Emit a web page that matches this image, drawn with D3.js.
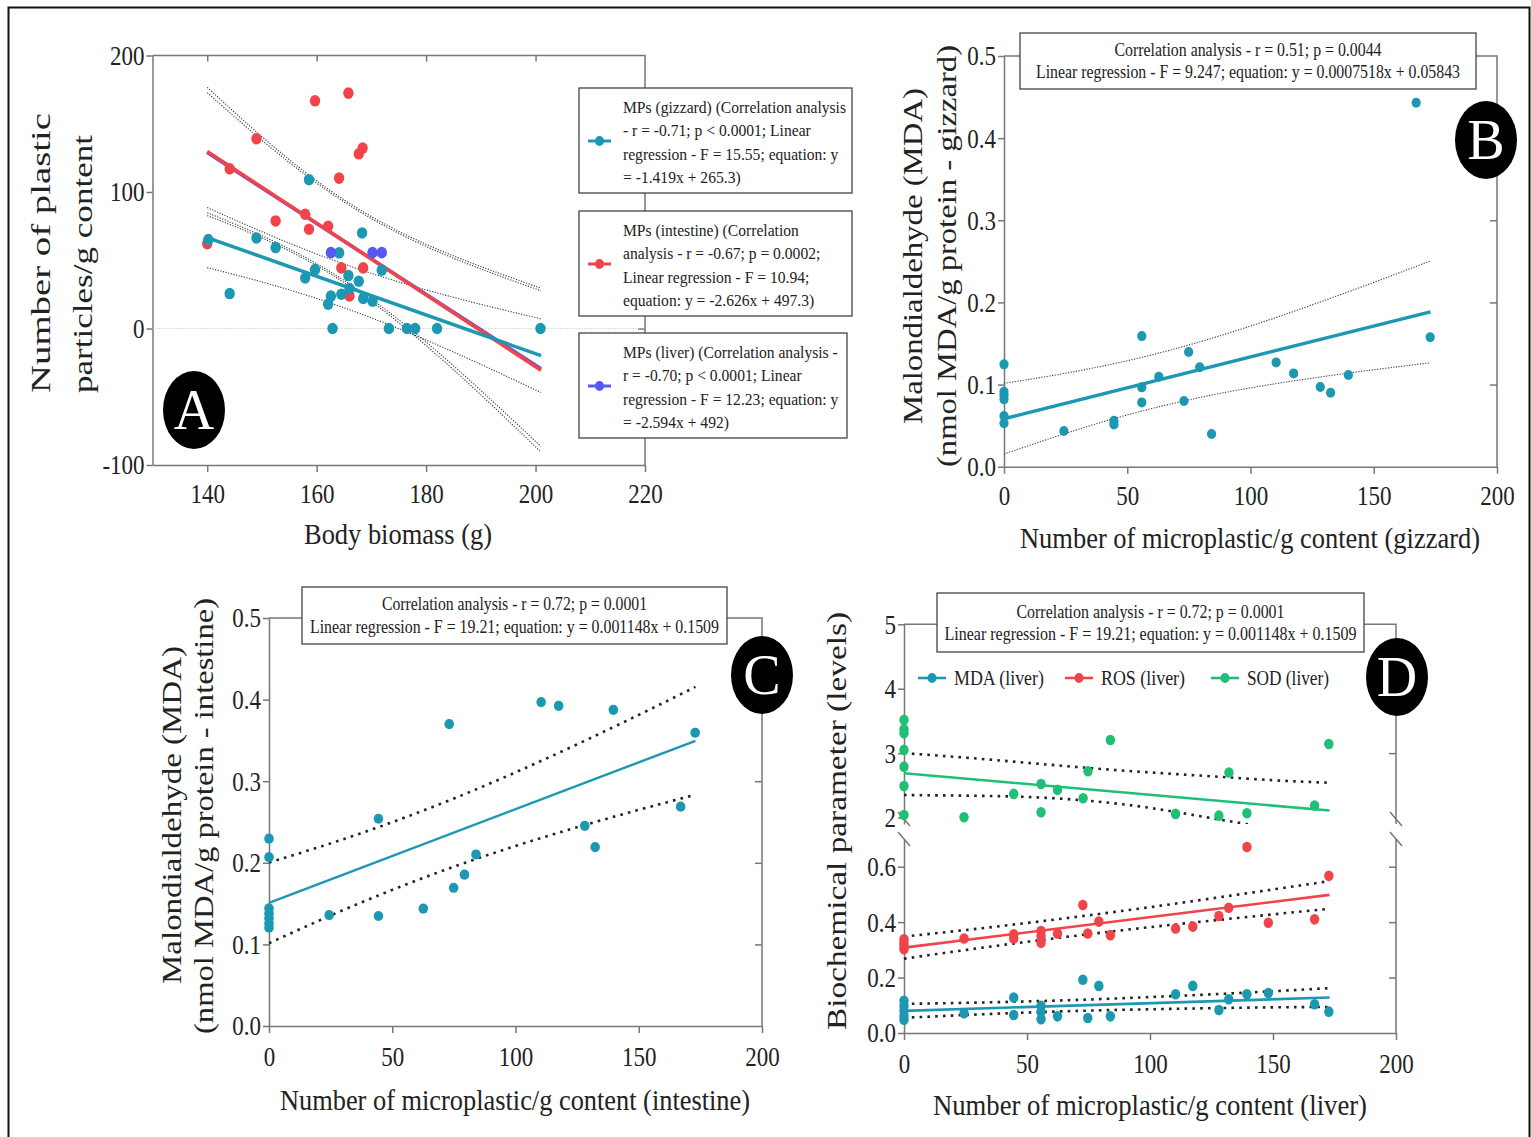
<!DOCTYPE html>
<html>
<head>
<meta charset="utf-8">
<script src="https://cdn.jsdelivr.net/npm/d3@7"></script>
<style>
  body { margin: 0; background: #fff; }
  text { font-family: "Liberation Serif", "DejaVu Serif", serif; }
</style>
</head>
<body>
<svg id="fig" width="1531" height="1137"></svg>
<script>
// ---------- data ----------
// panel A : body biomass vs MPs
const gizX = [140.2, 144.1, 149, 152.5, 157.9, 158.6, 159.7, 162.1, 162.6, 162.9, 164.1, 164.5, 165.8, 166, 167.7, 168.3, 168.5, 170.2, 171.9, 173.2, 176.5, 178, 182, 200.9];
const gizY = [65.1, 25.6, 66.3, 59.3, 37, 109, 43.2, 17.8, 23.7, 0, 55.4, 25.1, 38.8, 29.3, 34.6, 70, 22, 20, 42.7, 0, 0, 0, 0, 0];
const intX = [140, 144.1, 149, 152.5, 157.9, 158.6, 159.7, 162.1, 164.1, 164.5, 165.8, 166, 167.7, 168.4, 168.5];
const intY = [62.2, 117, 139, 78.8, 83.7, 72.7, 166.8, 74.9, 110.2, 44.4, 172.4, 23.9, 128, 132.2, 44.4];
const livX = [162.6, 170.2, 171.9];
const livY = [55.6, 55.6, 55.6];
// fits from the legend: gizzard, intestine, liver
const fitSlopeA = [-1.419, -2.626, -2.594];
const fitIcptA = [265.3, 497.3, 492];
const bandXA = [140, 150, 160, 170, 180, 190, 201];
const gizUpA = [88.6, 70.9, 54.6, 40.4, 28.3, 17.7, 7.1];
const gizLoA = [44.6, 34.1, 22.0, 7.8, -8.5, -26.3, -46.9];
const intUpA = [176.7, 140.5, 108.2, 82.0, 61.7, 45.4, 29.5];
const intLoA = [82.7, 66.3, 46.0, 19.8, -12.5, -48.6, -90.5];
const livUpA = [172.8, 137.9, 106.5, 80.5, 60.1, 43.6, 27.6];
const livLoA = [84.8, 67.9, 47.5, 21.5, -9.9, -45.4, -86.4];
const legendA = [
  ["MPs (gizzard) (Correlation analysis", "- r = -0.71; p < 0.0001; Linear", "regression - F = 15.55; equation: y", "= -1.419x + 265.3)"],
  ["MPs (intestine) (Correlation", "analysis - r = -0.67; p = 0.0002;", "Linear regression - F = 10.94;", "equation: y = -2.626x + 497.3)"],
  ["MPs (liver) (Correlation analysis -", "r = -0.70; p < 0.0001; Linear", "regression - F = 12.23; equation: y", "= -2.594x + 492)"]
];

// panel B : gizzard MPs vs MDA
const bX = [0, 0, 0, 0, 0, 0, 24.3, 44.6, 44.6, 55.9, 55.9, 55.9, 62.8, 73, 74.9, 79.4, 84.2, 110.4, 117.5, 128.3, 132.5, 139.7, 167.2, 172.9];
const bY = [0.1246, 0.0913, 0.087, 0.082, 0.0617, 0.0528, 0.0434, 0.056, 0.0515, 0.159, 0.0966, 0.0783, 0.1096, 0.080, 0.1396, 0.121, 0.0398, 0.127, 0.1136, 0.097, 0.090, 0.1116, 0.443, 0.1575];
const bandX = [0, 25, 50, 75, 100, 125, 150, 173];
const bUp = [0.1014, 0.1138, 0.129, 0.1482, 0.1712, 0.197, 0.2244, 0.2505];
const bLo = [0.0154, 0.0406, 0.063, 0.0814, 0.096, 0.1078, 0.118, 0.1265];
const noteB = ["Correlation analysis - r = 0.51; p = 0.0044", "Linear regression - F = 9.247; equation: y = 0.0007518x + 0.05843"];

// panel C : intestine MPs vs MDA
const cX = [0, 0, 0, 0, 0, 0, 0, 24.4, 44.4, 44.4, 62.6, 73.1, 74.9, 79.3, 84, 110.4, 117.5, 128.1, 132.3, 139.7, 167, 172.9];
const cY = [0.2296, 0.2069, 0.1443, 0.138, 0.132, 0.1257, 0.1204, 0.136, 0.254, 0.1348, 0.1439, 0.370, 0.1694, 0.1855, 0.2102, 0.397, 0.3924, 0.2453, 0.2193, 0.3875, 0.2688, 0.3594];
const cUp = [0.2004, 0.2238, 0.2498, 0.2788, 0.3108, 0.3452, 0.3813, 0.4155];
const cLo = [0.1014, 0.1354, 0.1668, 0.1952, 0.2206, 0.2436, 0.2649, 0.2835];
const noteC = ["Correlation analysis - r = 0.72; p = 0.0001", "Linear regression - F = 19.21; equation: y = 0.001148x + 0.1509"];

// panel D : liver MPs vs biochemical parameters
const rosX = [0, 0, 0, 0, 24.4, 44.6, 44.6, 55.7, 55.7, 55.7, 62.4, 72.7, 74.7, 79.2, 83.9, 110.4, 117.4, 128, 132, 139.4, 148.1, 166.9, 172.7];
const rosY = [0.338, 0.326, 0.314, 0.302, 0.341, 0.356, 0.341, 0.368, 0.350, 0.326, 0.359, 0.462, 0.359, 0.402, 0.353, 0.377, 0.384, 0.422, 0.452, 0.671, 0.398, 0.410, 0.567];
const mdaX = [0, 0, 0, 0, 0, 24.4, 44.6, 44.6, 55.7, 55.7, 55.7, 62.4, 72.7, 74.7, 79.2, 83.9, 110.4, 117.4, 128, 132, 139.4, 148.1, 166.9, 172.7];
const mdaY = [0.116, 0.098, 0.080, 0.062, 0.048, 0.071, 0.128, 0.065, 0.098, 0.077, 0.050, 0.060, 0.192, 0.054, 0.170, 0.060, 0.140, 0.170, 0.083, 0.122, 0.140, 0.144, 0.104, 0.077];
const sodX = [0, 0, 0, 0, 0, 0, 0, 24.4, 44.6, 55.7, 55.7, 62.4, 72.8, 74.8, 83.9, 110.4, 128, 132.1, 139.4, 166.9, 172.7];
const sodY = [3.516, 3.371, 3.309, 3.05, 2.79, 2.49, 2.04, 2.005, 2.367, 2.52, 2.083, 2.43, 2.30, 2.72, 3.205, 2.057, 2.03, 2.70, 2.067, 2.186, 3.143];
const fitD = { sod: [-0.00335, 2.688], ros: [0.0011, 0.308], mda: [0.000277, 0.080] };
const sodUp = [3.0, 2.93, 2.85, 2.77, 2.70, 2.64, 2.58, 2.54];
const sodLo = [2.35, 2.34, 2.32, 2.26, 2.15, 1.99, 1.83, 1.68];
const rosUp = [0.348, 0.3715, 0.397, 0.4245, 0.454, 0.4855, 0.518, 0.548];
const rosLo = [0.268, 0.2995, 0.329, 0.3565, 0.382, 0.4055, 0.428, 0.448];
const mdaUp = [0.105, 0.1089, 0.1139, 0.1208, 0.1297, 0.1396, 0.1506, 0.162];
const mdaLo = [0.055, 0.0649, 0.0739, 0.0808, 0.0857, 0.0896, 0.0926, 0.094];
const legendD = ["MDA (liver)", "ROS (liver)", "SOD (liver)"];

// ---------- helpers ----------
const TEAL = "#1c98b3", RED = "#f0444a", BLUE = "#5757f3", GREEN = "#1fbf76";
const AX = "#777";
const svg = d3.select("#fig");
svg.append("rect").attr("width", 1531).attr("height", 1137).attr("fill", "#fff");
svg.append("rect").attr("x", 8.5).attr("y", 7.5).attr("width", 1521).attr("height", 1160)
  .attr("fill", "none").attr("stroke", "#111").attr("stroke-width", 2);

const squeeze = (sel, k) => sel.each(function () {
  const w = this.getComputedTextLength();
  d3.select(this).attr("textLength", w * k).attr("lengthAdjust", "spacingAndGlyphs");
});

function styleAxis(g, fs) {
  g.attr("color", "#222");
  g.select(".domain").attr("stroke", AX).attr("stroke-width", 1.5);
  g.selectAll(".tick line").attr("stroke", AX).attr("stroke-width", 1.5);
  g.selectAll(".tick text").attr("font-size", fs);
  squeeze(g.selectAll(".tick text"), 0.82);
}

// left+bottom axes with labels, top+right lines with inward ticks
function frameBox(g, x, y, xt, yt, yfmt, xpad) {
  const [x0, x1] = x.range(), [y0, y1] = y.range();
  g.append("path").attr("d", `M${x0},${y1}H${x1}V${y0}`).attr("fill", "none").attr("stroke", AX).attr("stroke-width", 1.5);
  const inX = xt.filter(v => x(v) > x0 + 1 && x(v) < x1 - 1);
  const inY = yt.filter(v => y(v) < y0 - 1 && y(v) > y1 + 1);
  g.append("g").attr("transform", `translate(0,${y1})`)
    .call(d3.axisBottom(x).tickValues(inX).tickSize(6).tickFormat(""))
    .call(a => { a.select(".domain").remove(); a.selectAll("line").attr("stroke", AX).attr("stroke-width", 1.5); });
  g.append("g").attr("transform", `translate(${x1},0)`)
    .call(d3.axisLeft(y).tickValues(inY).tickSize(7).tickFormat(""))
    .call(a => { a.select(".domain").remove(); a.selectAll("line").attr("stroke", AX).attr("stroke-width", 1.5); });
  g.append("g").attr("transform", `translate(0,${y0})`)
    .call(d3.axisBottom(x).tickValues(xt).tickSize(7).tickSizeOuter(0).tickPadding(xpad).tickFormat(d => String(d)))
    .call(a => styleAxis(a, 28));
  g.append("g").attr("transform", `translate(${x0},0)`)
    .call(d3.axisLeft(y).tickValues(yt).tickSize(6).tickSizeOuter(0).tickPadding(2).tickFormat(yfmt))
    .call(a => styleAxis(a, 28));
}

function dots(g, xs, ys, x, y, color, rx, ry) {
  g.append("g").selectAll("ellipse").data(xs.map((v, i) => [v, ys[i]])).join("ellipse")
    .attr("cx", d => x(d[0])).attr("cy", d => y(d[1])).attr("rx", rx).attr("ry", ry).attr("fill", color);
}
function fit(g, x, y, slope, icpt, xr, color, w) {
  g.append("path").datum(xr)
    .attr("d", d3.line().x(d => x(d)).y(d => y(slope * d + icpt)))
    .attr("fill", "none").attr("stroke", color).attr("stroke-width", w);
}
function band(g, xs, vals, x, y, st) {
  g.append("path").datum(xs.map((v, i) => [v, vals[i]]))
    .attr("d", d3.line().curve(d3.curveNatural).x(d => x(d[0])).y(d => y(d[1])))
    .attr("fill", "none").attr("stroke", st.c).attr("stroke-width", st.w)
    .attr("stroke-dasharray", st.dash);
}
function title(g, txt, x, y, fs, width, rot, anchor) {
  g.append("text").attr("font-size", fs).attr("fill", "#222").attr("text-anchor", anchor || "middle")
    .attr("transform", `translate(${x},${y})` + (rot ? " rotate(-90)" : ""))
    .attr("textLength", width).attr("lengthAdjust", "spacingAndGlyphs").text(txt);
}
function note(g, lines, bx, by, bw, bh, widths, base) {
  g.append("rect").attr("x", bx).attr("y", by).attr("width", bw).attr("height", bh)
    .attr("fill", "#fff").attr("stroke", "#444").attr("stroke-width", 1.3);
  lines.forEach((t, i) => {
    g.append("text").attr("x", bx + bw / 2).attr("y", base[i]).attr("text-anchor", "middle")
      .attr("font-size", 18).attr("fill", "#222")
      .attr("textLength", widths[i]).attr("lengthAdjust", "spacingAndGlyphs").text(t);
  });
}
function badge(cx, cy, letter) {
  svg.append("ellipse").attr("cx", cx).attr("cy", cy).attr("rx", 31).attr("ry", 39).attr("fill", "#000");
  svg.append("text").attr("x", cx).attr("y", cy + 19).attr("text-anchor", "middle")
    .attr("font-size", 56).attr("fill", "#fff").text(letter);
}
const thinDot = { c: "#3a3a3a", w: 1.1, dash: "1.2,1.5" };
const boldDot = { c: "#222", w: 2.6, dash: "2.6,5.2" };

// ---------- panel A ----------
const xA = d3.scaleLinear().domain([130, 220]).range([152.5, 645]);
const yA = d3.scaleLinear().domain([-100, 200]).range([465, 55.5]);
const gA = svg.append("g");
frameBox(gA, xA, yA, [140, 160, 180, 200, 220], [-100, 0, 100, 200], d => String(d), 11);
gA.append("line").attr("x1", xA(130)).attr("x2", xA(220)).attr("y1", yA(0)).attr("y2", yA(0))
  .attr("stroke", "#bbb").attr("stroke-width", 1).attr("stroke-dasharray", "1,2");
[gizUpA, gizLoA, intUpA, intLoA, livUpA, livLoA].forEach(b => band(gA, bandXA, b, xA, yA, thinDot));
fit(gA, xA, yA, fitSlopeA[2], fitIcptA[2], [140, 201], BLUE, 3.5);
fit(gA, xA, yA, fitSlopeA[1], fitIcptA[1], [140, 201], RED, 3.5);
fit(gA, xA, yA, fitSlopeA[0], fitIcptA[0], [140, 201], TEAL, 3.5);
dots(gA, intX, intY, xA, yA, RED, 5.2, 5.8);
dots(gA, gizX, gizY, xA, yA, TEAL, 5.2, 5.8);
dots(gA, livX, livY, xA, yA, BLUE, 5.2, 5.8);

const boxTopA = [88, 211, 333], boxWA = [273, 273, 268], colA = [TEAL, RED, BLUE];
let kA = 1;
legendA.forEach((lines, j) => {
  const top = boxTopA[j];
  gA.append("rect").attr("x", 579).attr("y", top).attr("width", boxWA[j]).attr("height", 105)
    .attr("fill", "#fff").attr("stroke", "#444").attr("stroke-width", 1.3);
  gA.append("line").attr("x1", 588).attr("x2", 611).attr("y1", top + 53).attr("y2", top + 53)
    .attr("stroke", colA[j]).attr("stroke-width", 3);
  gA.append("ellipse").attr("cx", 599.5).attr("cy", top + 53).attr("rx", 4.5).attr("ry", 5).attr("fill", colA[j]);
  lines.forEach((t, i) => {
    const tx = gA.append("text").attr("x", 623).attr("y", top + 25 + i * 23.4)
      .attr("font-size", 17).attr("fill", "#222").text(t);
    if (j === 0 && i === 0) kA = 223 / tx.node().getComputedTextLength();
    squeeze(tx, kA);
  });
});
badge(194, 410, "A");
title(gA, "Body biomass (g)", 398, 544, 29, 188, false);
title(gA, "Number of plastic", 50, 393, 28, 280, true, "start");
title(gA, "particles/g content", 92, 393, 28, 258, true, "start");

// ---------- panel B ----------
const xB = d3.scaleLinear().domain([0, 200]).range([1004, 1497]);
const yB = d3.scaleLinear().domain([0, 0.5]).range([466.7, 56]);
const gB = svg.append("g");
frameBox(gB, xB, yB, [0, 50, 100, 150, 200], [0, 0.1, 0.2, 0.3, 0.4, 0.5], d => d.toFixed(1), 11);
band(gB, bandX, bUp, xB, yB, thinDot);
band(gB, bandX, bLo, xB, yB, thinDot);
fit(gB, xB, yB, 0.0007518, 0.05843, [0, 173], TEAL, 3.5);
dots(gB, bX, bY, xB, yB, TEAL, 4.6, 5);
note(gB, noteB, 1020, 33, 456, 56, [267, 424], [56, 78]);
badge(1486, 140, "B");
title(gB, "Malondialdehyde (MDA)", 922, 256, 28, 336, true);
title(gB, "(nmol MDA/g protein - gizzard)", 956, 256, 28, 422, true);
title(gB, "Number of microplastic/g content (gizzard)", 1250, 548, 29, 460, false);

// ---------- panel C ----------
const xC = d3.scaleLinear().domain([0, 200]).range([269, 762]);
const yC = d3.scaleLinear().domain([0, 0.5]).range([1026, 618]);
const gC = svg.append("g");
frameBox(gC, xC, yC, [0, 50, 100, 150, 200], [0, 0.1, 0.2, 0.3, 0.4, 0.5], d => d.toFixed(1), 13);
band(gC, bandX, cUp, xC, yC, boldDot);
band(gC, bandX, cLo, xC, yC, boldDot);
fit(gC, xC, yC, 0.001148, 0.1509, [0, 173], TEAL, 2.4);
dots(gC, cX, cY, xC, yC, TEAL, 4.8, 5.1);
note(gC, noteC, 302, 587, 425, 57, [265, 409], [610, 632.5]);
badge(762, 675, "C");
title(gC, "Malondialdehyde (MDA)", 181, 815, 28, 338, true);
title(gC, "(nmol MDA/g protein - intestine)", 213, 816, 28, 436, true);
title(gC, "Number of microplastic/g content (intestine)", 515, 1110, 29, 470, false);

// ---------- panel D (broken y axis) ----------
const xD = d3.scaleLinear().domain([0, 200]).range([904, 1396]);
const yLo = d3.scaleLinear().domain([0, 0.7]).range([1033, 839]);
const yHi = d3.scaleLinear().domain([1.9, 5]).range([824, 624.3]);
const gD = svg.append("g");
const defs = svg.append("defs");
defs.append("clipPath").attr("id", "clipHi").append("rect").attr("x", 880).attr("y", 600).attr("width", 540).attr("height", 224);
// frame
gD.append("path").attr("d", `M904,624.3H1396V824M1396,839V1033`).attr("fill", "none").attr("stroke", AX).attr("stroke-width", 1.5);
[[0.2, 0.4, 0.6], [3, 4]].forEach((tv, s) => {
  const sc = s ? yHi : yLo;
  gD.append("g").attr("transform", "translate(1396,0)")
    .call(d3.axisLeft(sc).tickValues(tv).tickSize(7).tickFormat(""))
    .call(a => { a.select(".domain").remove(); a.selectAll("line").attr("stroke", AX).attr("stroke-width", 1.5); });
});
gD.append("g").attr("transform", "translate(0,1033)")
  .call(d3.axisBottom(xD).tickValues([0, 50, 100, 150, 200]).tickSize(7).tickSizeOuter(0).tickPadding(13).tickFormat(d => String(d)))
  .call(a => styleAxis(a, 28));
gD.append("g").attr("transform", "translate(904,0)")
  .call(d3.axisLeft(yLo).tickValues([0, 0.2, 0.4, 0.6]).tickSize(6).tickSizeOuter(0).tickPadding(2).tickFormat(d => d.toFixed(1)))
  .call(a => styleAxis(a, 28));
gD.append("g").attr("transform", "translate(904,0)")
  .call(d3.axisLeft(yHi).tickValues([2, 3, 4, 5]).tickSize(6).tickSizeOuter(0).tickPadding(2).tickFormat(d => String(d)))
  .call(a => styleAxis(a, 28));
// break marks
[904, 1396].forEach(bx => [819, 839].forEach(by => {
  gD.append("line").attr("x1", bx - 6).attr("y1", by - 7).attr("x2", bx + 6).attr("y2", by + 7)
    .attr("stroke", AX).attr("stroke-width", 1.5);
}));
const gHi = gD.append("g").attr("clip-path", "url(#clipHi)");
band(gHi, bandX, sodUp, xD, yHi, boldDot);
band(gHi, bandX, sodLo, xD, yHi, boldDot);
fit(gHi, xD, yHi, fitD.sod[0], fitD.sod[1], [0, 173], GREEN, 2.6);
dots(gHi, sodX, sodY, xD, yHi, GREEN, 4.7, 5.3);
band(gD, bandX, rosUp, xD, yLo, boldDot);
band(gD, bandX, rosLo, xD, yLo, boldDot);
band(gD, bandX, mdaUp, xD, yLo, boldDot);
band(gD, bandX, mdaLo, xD, yLo, boldDot);
fit(gD, xD, yLo, fitD.ros[0], fitD.ros[1], [0, 173], RED, 2.6);
fit(gD, xD, yLo, fitD.mda[0], fitD.mda[1], [0, 173], TEAL, 2.6);
dots(gD, rosX, rosY, xD, yLo, RED, 4.7, 5.3);
dots(gD, mdaX, mdaY, xD, yLo, TEAL, 4.7, 5.3);
note(gD, noteC, 937, 593, 427, 59, [268, 412], [618, 639.5]);
// legend
const legXD = [918, 1065, 1211], legTW = [90, 84, 82], colD = [TEAL, RED, GREEN];
legendD.forEach((t, i) => {
  gD.append("line").attr("x1", legXD[i]).attr("x2", legXD[i] + 28).attr("y1", 678).attr("y2", 678)
    .attr("stroke", colD[i]).attr("stroke-width", 2.6);
  gD.append("ellipse").attr("cx", legXD[i] + 14).attr("cy", 678).attr("rx", 4.5).attr("ry", 5).attr("fill", colD[i]);
  gD.append("text").attr("x", legXD[i] + 36).attr("y", 685).attr("font-size", 21).attr("fill", "#222")
    .attr("textLength", legTW[i]).attr("lengthAdjust", "spacingAndGlyphs").text(t);
});
badge(1397, 677, "D");
title(gD, "Biochemical parameter (levels)", 846, 821, 28, 418, true);
title(gD, "Number of microplastic/g content (liver)", 1150, 1115, 29, 434, false);
</script>
</body>
</html>
